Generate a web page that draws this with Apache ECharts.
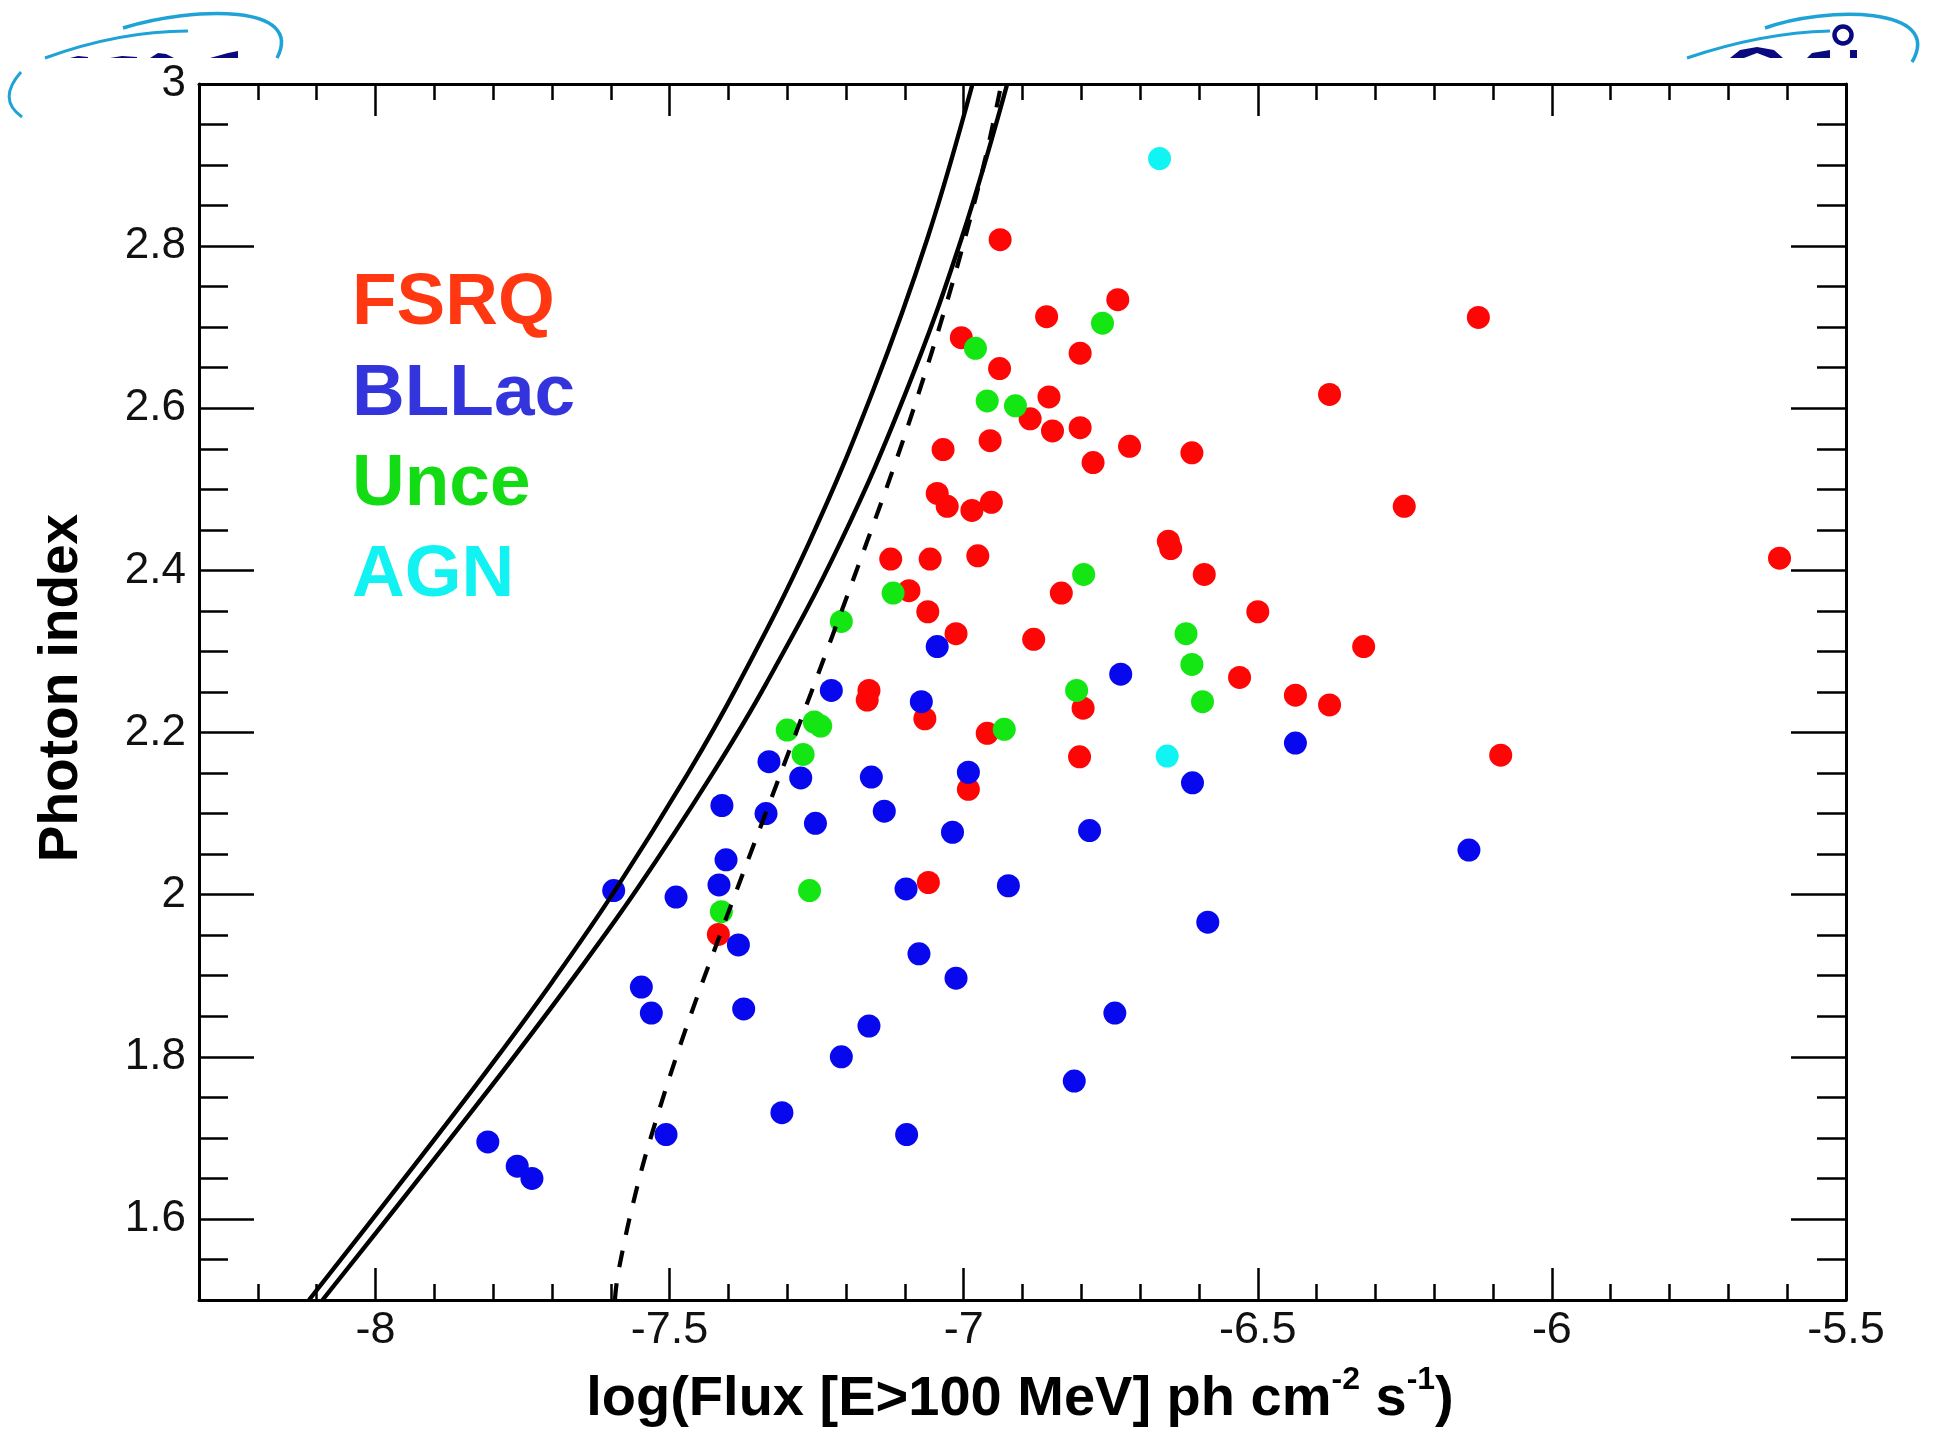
<!DOCTYPE html>
<html>
<head>
<meta charset="utf-8">
<title>Photon index vs flux</title>
<script src="https://cdn.jsdelivr.net/npm/echarts@6/dist/echarts.min.js"></script>
<style>
  html, body { margin: 0; padding: 0; background: #ffffff; }
  #chart { width: 1933px; height: 1446px; }
</style>
</head>
<body>
<div id="chart"></div>
<script>
// ---------------- data ----------------
const seriesNames = ['FSRQ', 'BLLac', 'Unce', 'AGN'];

const fsrq = [
  [-6.938, 2.808], [-6.738, 2.734], [-6.859, 2.713], [-6.125, 2.712], [-7.004, 2.687],
  [-6.802, 2.668], [-6.939, 2.649], [-6.378, 2.617], [-6.855, 2.614], [-6.887, 2.587],
  [-6.849, 2.572], [-6.802, 2.576], [-6.955, 2.560], [-7.035, 2.549], [-6.718, 2.553],
  [-6.780, 2.533], [-6.612, 2.545], [-6.251, 2.479], [-7.045, 2.495], [-7.028, 2.479],
  [-6.986, 2.474], [-6.953, 2.484], [-7.124, 2.414], [-7.057, 2.414], [-6.976, 2.418],
  [-6.652, 2.436], [-6.648, 2.427], [-6.591, 2.395], [-5.613, 2.415], [-7.093, 2.375],
  [-6.834, 2.372], [-7.061, 2.349], [-6.500, 2.349], [-7.013, 2.322], [-6.881, 2.315],
  [-6.320, 2.306], [-6.531, 2.268], [-6.436, 2.246], [-6.378, 2.234], [-7.161, 2.252],
  [-7.164, 2.240], [-7.066, 2.217], [-6.797, 2.230], [-6.960, 2.199], [-6.803, 2.170],
  [-6.087, 2.172], [-6.992, 2.130], [-7.060, 2.015], [-7.417, 1.951]
];

const bllac = [
  [-7.045, 2.306], [-6.733, 2.272], [-7.225, 2.252], [-7.072, 2.238], [-6.436, 2.187],
  [-7.331, 2.164], [-7.277, 2.144], [-7.157, 2.145], [-6.992, 2.151], [-6.611, 2.138],
  [-7.411, 2.110], [-7.336, 2.100], [-7.135, 2.103], [-7.252, 2.088], [-7.019, 2.077],
  [-6.786, 2.079], [-6.141, 2.055], [-7.404, 2.043], [-7.595, 2.005], [-7.489, 1.997],
  [-7.416, 2.012], [-7.098, 2.007], [-6.924, 2.011], [-7.383, 1.938], [-6.585, 1.966],
  [-7.076, 1.927], [-7.013, 1.897], [-7.548, 1.886], [-7.531, 1.854], [-7.374, 1.859],
  [-6.743, 1.854], [-7.161, 1.838], [-7.208, 1.800], [-6.812, 1.770], [-7.309, 1.731],
  [-7.506, 1.704], [-7.097, 1.704], [-7.809, 1.695], [-7.759, 1.665], [-7.734, 1.650]
];

const unce = [
  [-6.764, 2.705], [-6.980, 2.674], [-6.960, 2.609], [-6.912, 2.603], [-6.796, 2.395],
  [-7.120, 2.372], [-7.208, 2.337], [-6.622, 2.322], [-6.612, 2.284], [-6.594, 2.238],
  [-6.808, 2.252], [-6.931, 2.204], [-7.300, 2.203], [-7.254, 2.213], [-7.243, 2.208],
  [-7.273, 2.173], [-7.262, 2.005], [-7.412, 1.979]
];

const agn = [
  [-6.667, 2.908], [-6.654, 2.171]
];

// sensitivity curves
const curveSolidA = [
  [-8.113, 1.5], [-7.965, 1.637], [-7.901, 1.697], [-7.803, 1.790], [-7.699, 1.893],
  [-7.593, 2.005], [-7.470, 2.148], [-7.383, 2.260], [-7.263, 2.434], [-7.154, 2.622],
  [-7.061, 2.811], [-6.985, 3.0]
];
const curveSolidB = [
  [-8.090, 1.5], [-7.940, 1.637], [-7.875, 1.697], [-7.775, 1.790], [-7.668, 1.893],
  [-7.557, 2.005], [-7.428, 2.148], [-7.336, 2.260], [-7.210, 2.434], [-7.097, 2.622],
  [-7.003, 2.811], [-6.926, 3.0]
];
const curveDashed = [
  [-7.593, 1.5], [-7.587, 1.535], [-7.556, 1.637], [-7.522, 1.724], [-7.474, 1.831],
  [-7.415, 1.949], [-7.341, 2.092], [-7.230, 2.306], [-7.165, 2.434], [-7.117, 2.531],
  [-7.075, 2.622], [-7.033, 2.720], [-6.997, 2.812], [-6.963, 2.909], [-6.936, 3.0]
];

// axes / ticks
const xRange = [-8.3, -5.5];
const yRange = [1.5, 3.0];
const xMajorTicks = [-8, -7.5, -7, -6.5, -6, -5.5];
const xMinorTicks = [-8.2, -8.1, -7.9, -7.8, -7.7, -7.6, -7.4, -7.3, -7.2, -7.1, -6.9, -6.8,
                     -6.7, -6.6, -6.4, -6.3, -6.2, -6.1, -5.9, -5.8, -5.7, -5.6];
const yMajorTicks = [1.6, 1.8, 2.0, 2.2, 2.4, 2.6, 2.8, 3.0];
const yMinorTicks = [1.55, 1.65, 1.7, 1.75, 1.85, 1.9, 1.95, 2.05, 2.1, 2.15, 2.25, 2.3, 2.35,
                     2.45, 2.5, 2.55, 2.65, 2.7, 2.75, 2.85, 2.9, 2.95];

const xTitle = ['log(Flux [E>100 MeV] ph cm', '-2', ' s', '-1', ')'];
const yTitle = 'Photon index';

// ---------------- styling ----------------
const FONT = '"Liberation Sans", Arial, Helvetica, sans-serif';
const dotColors = { FSRQ: '#ff0606', BLLac: '#0808ee', Unce: '#14e614', AGN: '#10f4f4' };
const legendTextColors = { FSRQ: '#ff3812', BLLac: '#3434dc', Unce: '#14dc14', AGN: '#12f2f2' };

function majorAxis(pos, isX, withLabels) {
  const ticks = isX ? xMajorTicks : yMajorTicks;
  return {
    type: 'value',
    position: pos,
    min: isX ? xRange[0] : yRange[0],
    max: isX ? xRange[1] : yRange[1],
    axisLine: { show: true, onZero: false, lineStyle: { color: '#000', width: 3 } },
    axisTick: { show: true, inside: true, length: isX ? 32 : 55, customValues: ticks,
                lineStyle: { color: '#000', width: 2.5 } },
    axisLabel: { show: withLabels, customValues: ticks, color: '#111', fontSize: isX ? 45 : 44,
                 fontFamily: FONT, margin: isX ? 8 : 13,
                 formatter: v => String(Math.round(v * 100) / 100) },
    splitLine: { show: false }
  };
}
function minorAxis(pos, isX) {
  return {
    type: 'value',
    position: pos,
    min: isX ? xRange[0] : yRange[0],
    max: isX ? xRange[1] : yRange[1],
    axisLine: { show: false, onZero: false },
    axisTick: { show: true, inside: true, length: isX ? 16 : 29,
                customValues: isX ? xMinorTicks : yMinorTicks,
                lineStyle: { color: '#000', width: 2.5 } },
    axisLabel: { show: false },
    splitLine: { show: false }
  };
}

function scatterSeries(name, data, z) {
  return {
    name: name, type: 'scatter', data: data,
    symbol: 'circle', symbolSize: 23, z: z,
    itemStyle: { color: dotColors[name], opacity: 1 }
  };
}
function curveSeries(name, data, dashed) {
  return {
    name: name, type: 'line', data: data, smooth: 0.4,
    showSymbol: false, symbol: 'none', z: 10, clip: true,
    lineStyle: dashed ? { color: '#000', width: 4.2, type: [17, 16] }
                      : { color: '#000', width: 4.4 }
  };
}

const chart = echarts.init(document.getElementById('chart'), null, { renderer: 'canvas' });

const option = {
  backgroundColor: '#ffffff',
  animation: false,
  grid: { left: 199, top: 84, right: 87, bottom: 146, containLabel: false },
  xAxis: [
    majorAxis('bottom', true, true),
    majorAxis('top', true, false),
    minorAxis('bottom', true),
    minorAxis('top', true)
  ],
  yAxis: [
    majorAxis('left', false, true),
    majorAxis('right', false, false),
    minorAxis('left', false),
    minorAxis('right', false)
  ],
  legend: {
    orient: 'vertical', left: 342, top: 254,
    icon: 'none', itemWidth: 0, itemHeight: 90, itemGap: 9,
    selectedMode: false,
    textStyle: { fontSize: 73, fontWeight: 'bold', fontFamily: FONT },
    data: seriesNames.map(n => ({ name: n, textStyle: { color: legendTextColors[n] } }))
  },
  series: [
    scatterSeries('FSRQ', fsrq, 2),
    scatterSeries('Unce', unce, 3),
    scatterSeries('BLLac', bllac, 4),
    scatterSeries('AGN', agn, 5),
    curveSeries('limit1', curveSolidA, false),
    curveSeries('limit2', curveSolidB, false),
    curveSeries('limit3', curveDashed, true)
  ],
  graphic: [
    // axis titles
    {
      type: 'text', x: 1020, y: 1428, z: 100,
      style: {
        text: '{a|' + xTitle[0] + '}{s|' + xTitle[1] + '}{a|' + xTitle[2] + '}{s|' + xTitle[3] + '}{a|' + xTitle[4] + '}',
        align: 'center', verticalAlign: 'bottom',
        rich: {
          a: { fontSize: 56, fontWeight: 'bold', fontFamily: FONT, fill: '#000', lineHeight: 64, verticalAlign: 'bottom' },
          s: { fontSize: 32, fontWeight: 'bold', fontFamily: FONT, fill: '#000', lineHeight: 34, verticalAlign: 'top' }
        }
      }
    },
    {
      type: 'text', x: 62, y: 688, rotation: Math.PI / 2, z: 100,
      style: {
        text: yTitle, align: 'center', verticalAlign: 'middle',
        font: 'bold 55px ' + FONT, fill: '#000'
      }
    },
    // decorative logo fragments (top corners)
    { type: 'bezierCurve', z: 1, shape: { x1: 45, y1: 58, cpx1: 100, cpy1: 38, cpx2: 150, cpy2: 31, x2: 188, y2: 31 },
      style: { stroke: '#1fa3d6', lineWidth: 3, fill: null } },
    { type: 'bezierCurve', z: 1, shape: { x1: 123, y1: 28, cpx1: 195, cpy1: 6, cpx2: 305, cpy2: 4, x2: 277, y2: 58 },
      style: { stroke: '#1fa3d6', lineWidth: 3.5, fill: null } },
    { type: 'bezierCurve', z: 1, shape: { x1: 21, y1: 72, cpx1: 5, cpy1: 90, cpx2: 5, cpy2: 105, x2: 22, y2: 117 },
      style: { stroke: '#1fa3d6', lineWidth: 3, fill: null } },
    { type: 'polygon', z: 1, shape: { points: [[70, 58], [78, 56], [88, 57], [88, 58]] }, style: { fill: '#0a0a80' } },
    { type: 'polygon', z: 1, shape: { points: [[110, 58], [122, 56], [137, 57], [137, 58]] }, style: { fill: '#0a0a80' } },
    { type: 'polygon', z: 1, shape: { points: [[150, 58], [158, 53], [166, 54], [174, 58]] }, style: { fill: '#0a0a80' } },
    { type: 'polygon', z: 1, shape: { points: [[210, 58], [228, 53], [238, 51], [238, 58]] }, style: { fill: '#0a0a80' } },
    { type: 'bezierCurve', z: 1, shape: { x1: 1687, y1: 58, cpx1: 1740, cpy1: 40, cpx2: 1790, cpy2: 32, x2: 1830, y2: 31 },
      style: { stroke: '#1fa3d6', lineWidth: 3, fill: null } },
    { type: 'bezierCurve', z: 1, shape: { x1: 1765, y1: 28, cpx1: 1825, cpy1: 6, cpx2: 1945, cpy2: 6, x2: 1912, y2: 62 },
      style: { stroke: '#1fa3d6', lineWidth: 3.5, fill: null } },
    { type: 'circle', z: 1, shape: { cx: 1843, cy: 35, r: 8.5 }, style: { stroke: '#0a0a80', lineWidth: 4.5, fill: null } },
    { type: 'polygon', z: 1, shape: { points: [[1730, 58], [1740, 50], [1757, 47], [1774, 50], [1783, 58], [1770, 58], [1757, 53], [1744, 58]] },
      style: { fill: '#0a0a80' } },
    { type: 'polygon', z: 1, shape: { points: [[1807, 58], [1812, 53], [1830, 50], [1830, 58]] }, style: { fill: '#0a0a80' } },
    { type: 'rect', z: 1, shape: { x: 1850, y: 50, width: 7, height: 8 }, style: { fill: '#0a0a80' } }
  ]
};

chart.setOption(option);
</script>
</body>
</html>
